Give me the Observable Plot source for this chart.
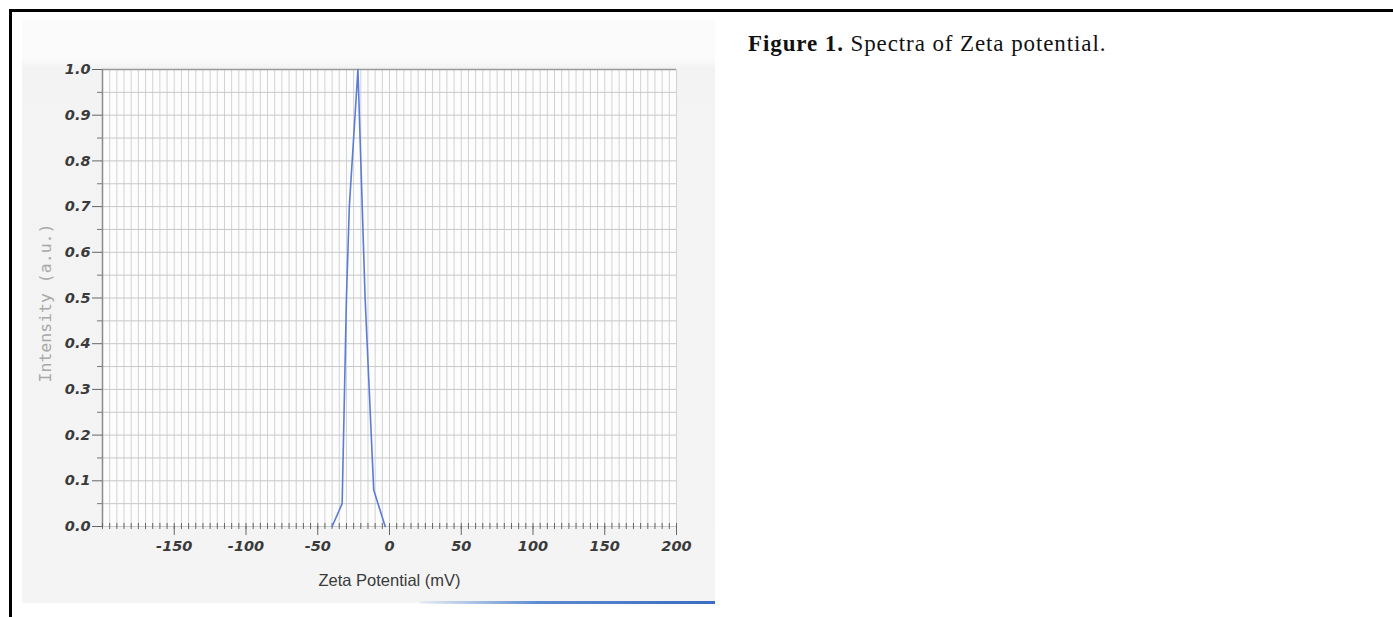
<!DOCTYPE html>
<html>
<head>
<meta charset="utf-8">
<script src="https://cdn.jsdelivr.net/npm/d3@7"></script>
<script src="https://cdn.jsdelivr.net/npm/@observablehq/plot@0.6"></script>
<style>
  html, body { margin: 0; padding: 0; background: #fff; width: 1393px; height: 617px; overflow: hidden; position: relative; }
  #topline { position: absolute; left: 9px; top: 9px; width: 1384px; height: 3px; background: #000; }
  #leftline { position: absolute; left: 9px; top: 9px; width: 3px; height: 608px; background: #000; }
  #scan { position: absolute; left: 22px; top: 20px; width: 693px; height: 583px;
          background: linear-gradient(to bottom, #fbfbfb 0px, #fbfbfb 38px, #f3f3f3 48px, #f4f4f4 100%); }
  #blueline { position: absolute; left: 420px; top: 601px; width: 295px; height: 3px;
              background: linear-gradient(to right, rgba(120,160,220,0.1), #5d8bd0 40%, #3a6cc0); }
  #chart { position: absolute; left: 22px; top: 20px; }
  #caption { position: absolute; left: 748px; top: 31px; font-family: "Liberation Serif", serif; font-size: 23px; color: #111; white-space: nowrap; letter-spacing: 0.9px; }
  #caption b { font-weight: bold; }
</style>
</head>
<body>
<div id="scan"></div>
<div id="blueline"></div>
<div id="chart"></div>
<div id="topline"></div>
<div id="leftline"></div>
<div id="caption"><b>Figure 1.</b> Spectra of Zeta potential.</div>
<script>
// ---- data ----
const zeta = [-40, -33, -30, -28, -22, -17, -11, -3];
const intensity = [0, 0.05, 0.5, 0.7, 1.0, 0.5, 0.08, 0];
const xTicks = [-150, -100, -50, 0, 50, 100, 150, 200];
const yTicks = [0, 0.1, 0.2, 0.3, 0.4, 0.5, 0.6, 0.7, 0.8, 0.9, 1.0];
const xLabel = "Zeta Potential (mV)";
const yLabel = "Intensity (a.u.)";

const data = zeta.map((x, i) => ({x, y: intensity[i]}));
const minorX = d3.range(-200, 201, 5);
const minorY = d3.range(0, 21).map(i => i * 0.05);
const minorYOnly = minorY.filter((d, i) => i % 2 === 1);

const tickFont = {fontFamily: "DejaVu Sans", fontWeight: "bold", fontStyle: "italic", fontSize: 14.5, fill: "#3a3a3a"};

const chart = Plot.plot({
  width: 693,
  height: 585,
  marginLeft: 80,
  marginRight: 39,
  marginTop: 49,
  marginBottom: 79,
  x: {domain: [-200, 200]},
  y: {domain: [0, 1]},
  style: {background: "transparent", overflow: "visible"},
  marks: [
    Plot.frame({fill: "#fdfdfd", stroke: null}),
    Plot.gridX(minorX, {stroke: "#d2d2d2", strokeOpacity: 1, strokeWidth: 1}),
    Plot.gridY(minorY, {stroke: "#c8c8c8", strokeOpacity: 1, strokeWidth: 1}),
    Plot.ruleY([1], {stroke: "#9a9a9a", strokeWidth: 1.5}),
    Plot.ruleX([-200], {stroke: "#8a8a8a", strokeWidth: 1.5}),
    Plot.axisY(minorYOnly, {tickSize: 5, tickFormat: () => "", stroke: "#777", label: null}),
    Plot.axisY(yTicks, {tickSize: 10, tickPadding: 2, tickFormat: d => d.toFixed(1), stroke: "#666", label: null, ...tickFont}),
    Plot.axisX(minorX, {tickSize: 6, tickFormat: () => "", stroke: "#666", label: null, dy: -3}),
    Plot.axisX(xTicks, {tickSize: 9, tickPadding: 5, tickFormat: d => String(d), stroke: "#666", label: null, ...tickFont}),
    Plot.line(data, {x: "x", y: "y", stroke: "#5b7bd8", strokeWidth: 1.6}),
    Plot.text([yLabel], {frameAnchor: "left", textAnchor: "middle", rotate: -90, dx: -57, dy: 5, fontFamily: "DejaVu Sans Mono", fontSize: 16.5, fill: "#a8a8a8"}),
    Plot.text([xLabel], {frameAnchor: "bottom", dy: 59, fontFamily: "Liberation Sans", fontSize: 16.5, fill: "#3a3a3a"})
  ]
});
document.getElementById("chart").appendChild(chart);
</script>
</body>
</html>
